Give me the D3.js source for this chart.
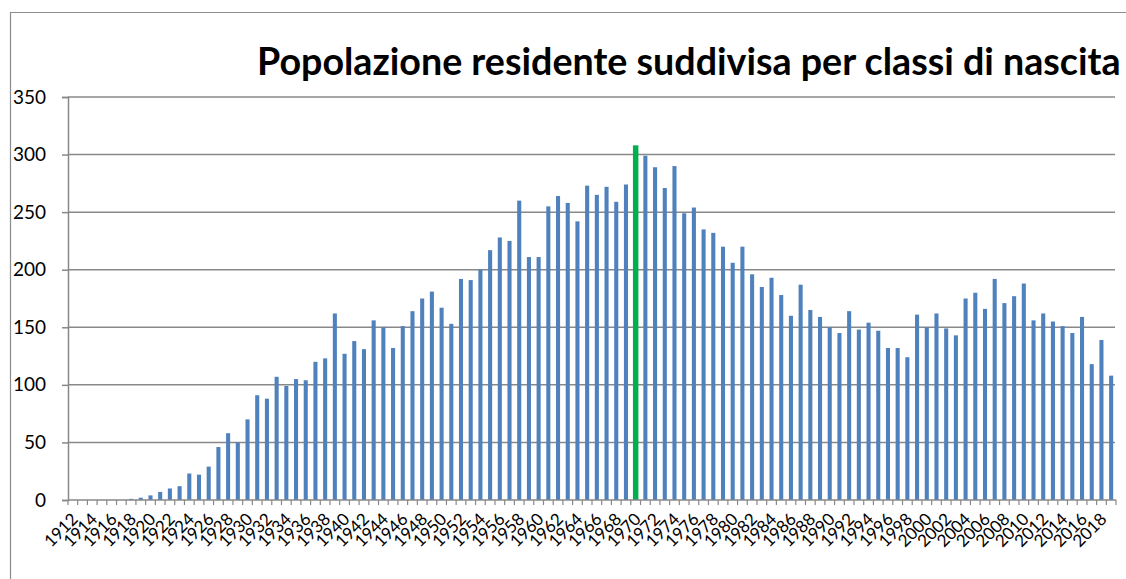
<!DOCTYPE html>
<html>
<head>
<meta charset="utf-8">
<script src="https://cdn.jsdelivr.net/npm/d3@7"></script>
<style>
  html, body { margin: 0; padding: 0; background: #fff; overflow: hidden; }
  svg { display: block; font-family: Lato, "Liberation Sans", sans-serif; }
  .grid line { stroke: #888; stroke-width: 1.5; }
</style>
</head>
<body>
<svg width="1126" height="579"></svg>
<script>
// Anni di nascita (1912 - 2019)
const years = d3.range(1912, 2020);

// Residenti per anno di nascita
const residents = [
  0, 0, 0, 0, 0, 0, 1, 2, 4, 7,              // 1912-1921
  10, 12, 23, 22, 29, 46, 58, 50, 70, 91,    // 1922-1931
  88, 107, 99, 105, 104, 120, 123, 162, 127, 138, // 1932-1941
  131, 156, 150, 132, 151, 164, 175, 181, 167, 153, // 1942-1951
  192, 191, 200, 217, 228, 225, 260, 211, 211, 255, // 1952-1961
  264, 258, 242, 273, 265, 272, 259, 274, 308, 299, // 1962-1971
  289, 271, 290, 249, 254, 235, 232, 220, 206, 220, // 1972-1981
  196, 185, 193, 178, 160, 187, 165, 159, 150, 145, // 1982-1991
  164, 148, 154, 147, 132, 132, 124, 161, 150, 162, // 1992-2001
  149, 143, 175, 180, 166, 192, 171, 177, 188, 156, // 2002-2011
  162, 155, 151, 145, 159, 118, 139, 108            // 2012-2019
];

// Anno evidenziato
const highlightYear = 1970;

// Etichette asse x: un anno ogni due
const labelYears = years.filter((y, i) => i % 2 === 0);

// Tacche asse y
const yTicks = [0, 50, 100, 150, 200, 250, 300, 350];

const title = "Popolazione residente suddivisa per classi di nascita";

const svg = d3.select("svg");
const plotLeft = 68, plotRight = 1116, plotTop = 97, plotBottom = 500;

const x = d3.scaleBand().domain(years).range([plotLeft, plotRight]).padding(0);
const y = d3.scaleLinear().domain([0, 350]).range([plotBottom, plotTop]);

// Cornice del grafico
svg.append("path")
  .attr("d", `M10.5,600 V12.5 H1130`)
  .attr("fill", "none")
  .attr("stroke", "#8c8c8c")
  .attr("stroke-width", 1.2);

// Griglia orizzontale
svg.append("g")
  .attr("class", "grid")
  .selectAll("line")
  .data(yTicks.filter(d => d > 0))
  .enter()
  .append("line")
  .attr("x1", plotLeft)
  .attr("x2", plotRight - 1)
  .attr("y1", d => y(d))
  .attr("y2", d => y(d));

// Asse y
const yAxis = svg.append("g")
  .attr("transform", `translate(${plotLeft},0)`)
  .call(d3.axisLeft(y).tickValues(yTicks).tickSize(6).tickPadding(16));
yAxis.select(".domain").attr("stroke", "#888").attr("stroke-width", 1.5);
yAxis.selectAll(".tick line").attr("stroke", "#888").attr("stroke-width", 1.5);
yAxis.selectAll("text")
  .attr("font-family", "Lato, sans-serif")
  .attr("font-size", 19)
  .attr("fill", "#000");

// Barre
const bw = x.bandwidth() * 0.42;
svg.append("g")
  .selectAll("rect")
  .data(years.map((yr, i) => ({ year: yr, value: residents[i] })))
  .enter()
  .append("rect")
  .attr("x", d => {
    const w = d.year === highlightYear ? bw + 1.4 : bw;
    return x(d.year) + x.bandwidth() / 2 - w / 2;
  })
  .attr("width", d => d.year === highlightYear ? bw + 1.4 : bw)
  .attr("y", d => y(d.value))
  .attr("height", d => y(0) - y(d.value))
  .attr("fill", d => d.year === highlightYear ? "#00B050" : "#4F81BD");

// Asse x: linea e tacche tra le categorie
const xg = svg.append("g");
xg.append("line")
  .attr("x1", plotLeft).attr("x2", plotRight)
  .attr("y1", plotBottom).attr("y2", plotBottom)
  .attr("stroke", "#888").attr("stroke-width", 1.5);
xg.selectAll(".tk")
  .data(years.concat([years[years.length - 1] + 1]))
  .enter()
  .append("line")
  .attr("class", "tk")
  .attr("x1", (d, i) => plotLeft + i * x.step())
  .attr("x2", (d, i) => plotLeft + i * x.step())
  .attr("y1", plotBottom)
  .attr("y2", plotBottom + 5)
  .attr("stroke", "#888").attr("stroke-width", 1.2);

// Etichette asse x ruotate
xg.selectAll(".lbl")
  .data(labelYears)
  .enter()
  .append("text")
  .attr("class", "lbl")
  .attr("transform", d => `translate(${x(d) + x.bandwidth() / 2 + 2},${plotBottom + 16}) rotate(-45)`)
  .attr("dy", "0.35em")
  .attr("text-anchor", "end")
  .attr("font-size", 17)
  .attr("fill", "#000")
  .text(d => d);

// Titolo
const t = svg.append("text")
  .attr("x", 257)
  .attr("y", 75)
  .attr("font-weight", "bold")
  .attr("font-size", 32)
  .attr("fill", "#000")
  .text(title);
const tw = t.node().getComputedTextLength();
t.attr("font-size", 32 * 864 / tw);
</script>
</body>
</html>
